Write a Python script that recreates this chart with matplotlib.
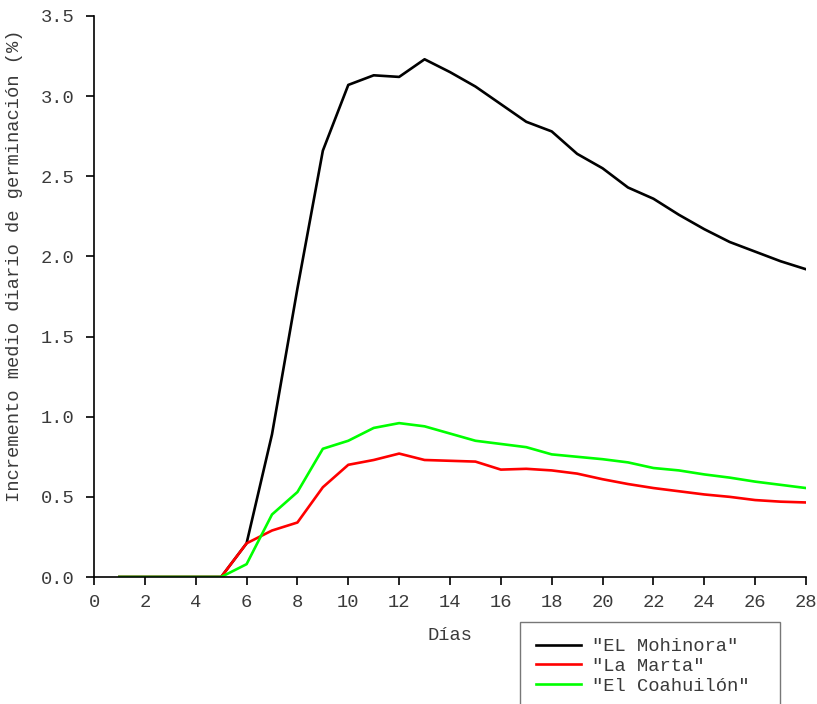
import matplotlib
matplotlib.use("Agg")
import matplotlib.pyplot as plt

dias = list(range(1, 29))
mohinora = [0, 0, 0, 0, 0, 0.21, 0.89, 1.80, 2.66, 3.07, 3.13, 3.12, 3.23, 3.15,
            3.06, 2.95, 2.84, 2.78, 2.64, 2.55, 2.43, 2.36, 2.26, 2.17, 2.09, 2.03, 1.97, 1.92]
la_marta = [0, 0, 0, 0, 0, 0.21, 0.29, 0.34, 0.56, 0.70, 0.73, 0.77, 0.73, 0.725,
            0.72, 0.67, 0.675, 0.665, 0.645, 0.61, 0.58, 0.555, 0.535, 0.515, 0.50, 0.48, 0.47, 0.465]
coahuilon = [0, 0, 0, 0, 0, 0.08, 0.39, 0.53, 0.80, 0.85, 0.93, 0.96, 0.94, 0.895,
             0.85, 0.83, 0.81, 0.765, 0.75, 0.735, 0.715, 0.68, 0.665, 0.64, 0.62, 0.595, 0.575, 0.555]
series_labels = ['"EL Mohinora"', '"La Marta"', '"El Coahuilón"']
colors = ["#000000", "#ff0000", "#00ff00"]
xticks = list(range(0, 29, 2))
yticks = [0.0, 0.5, 1.0, 1.5, 2.0, 2.5, 3.0, 3.5]

plt.rcParams['font.family'] = ['Liberation Mono', 'DejaVu Sans Mono']
FS = 13.5
TXT = '#3a3a3a'

fig = plt.figure(figsize=(8.17, 7.04), dpi=100)
ax = fig.add_axes([94/817, 1-577/704, (806-94)/817, (577-16)/704])

for ys, lab, c in zip([mohinora, la_marta, coahuilon], series_labels, colors):
    ax.plot(dias, ys, color=c, lw=1.9, label=lab)

ax.set_xlim(0, 28)
ax.set_ylim(0, 3.5)
ax.set_xticks(xticks)
ax.set_yticks(yticks)
ax.set_yticklabels([f"{v:.1f}" for v in yticks])
ax.spines['top'].set_visible(False)
ax.spines['right'].set_visible(False)
ax.spines['left'].set_linewidth(1.2)
ax.spines['bottom'].set_linewidth(1.2)
ax.tick_params(direction='out', length=6, width=1.2, labelsize=FS, labelcolor=TXT)
ax.tick_params(axis='y', pad=8)
ax.tick_params(axis='x', pad=6)
ax.set_xlabel("Días", fontsize=FS, color=TXT, va='center')
ax.xaxis.set_label_coords(0.5, (577-635)/561)
ax.set_ylabel("Incremento medio diario de germinación (%)", fontsize=FS, color=TXT, va='center')
ax.yaxis.set_label_coords((15-94)/712, (577-266)/561)

leg = fig.legend(loc='upper left',
                 bbox_to_anchor=(520/817, 1-622/704, 260/817, 0), mode='expand',
                 fontsize=FS, frameon=True, fancybox=False, edgecolor='#555555',
                 handlelength=2.4, borderpad=0.85, labelspacing=0.14,
                 handletextpad=0.6, borderaxespad=0)
leg.get_frame().set_linewidth(1.0)
for t in leg.get_texts():
    t.set_color(TXT)

fig.savefig("out.png", dpi=100)
